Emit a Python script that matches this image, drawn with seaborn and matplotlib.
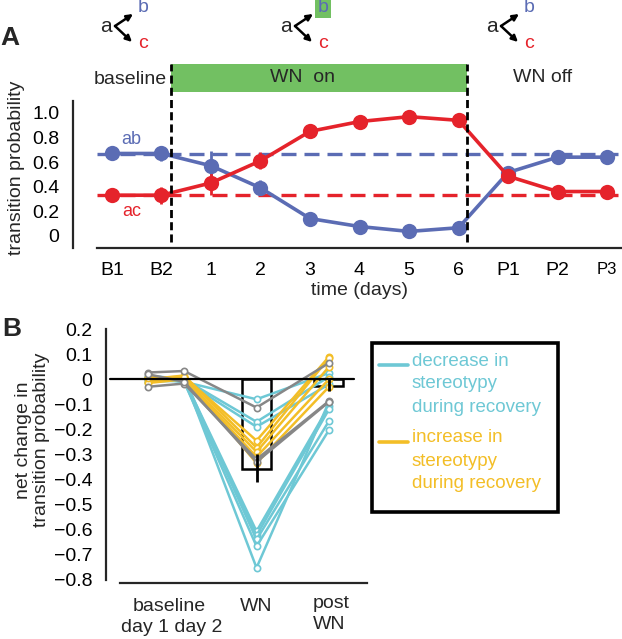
import numpy as np
import pandas as pd
import matplotlib
matplotlib.use("Agg")
import matplotlib.pyplot as plt
from matplotlib.patches import Rectangle, FancyArrowPatch
from matplotlib.lines import Line2D
import seaborn as sns

sns.set_style("white")
plt.rcParams['font.family'] = ['Liberation Sans', 'DejaVu Sans']

# ---- panel A data ----
day_labels = ['B1', 'B2', '1', '2', '3', '4', '5', '6', 'P1', 'P2', 'P3']
ab_prob = [0.67, 0.67, 0.57, 0.39, 0.14, 0.075, 0.035, 0.065, 0.515, 0.64, 0.64]
ab_err = [0.05, 0.065, 0.12, 0.06, 0.02, 0.02, 0.02, 0.02, 0.05, 0.05, 0.05]
ac_prob = [0.33, 0.33, 0.43, 0.61, 0.85, 0.93, 0.97, 0.94, 0.485, 0.36, 0.36]
ac_err = [0.05, 0.07, 0.10, 0.07, 0.02, 0.02, 0.02, 0.02, 0.05, 0.05, 0.05]
ab_base = 0.667
ac_base = 0.333

# ---- panel B data (one row per bird: day1, day2, WN, post WN) ----
stage_pos = [0, 1, 3, 5]
bird_group = ['decrease'] * 8 + ['increase'] * 5 + ['other'] * 3
day1 = [0.01, 0.0, -0.01, 0.015, 0.0, -0.01, 0.005, 0.0,
        -0.01, 0.0, 0.01, -0.015, 0.005,
        0.027, -0.03, 0.02]
day2 = [-0.01, 0.0, -0.005, 0.0, -0.01, 0.005, -0.01, 0.005,
        0.01, 0.015, 0.005, 0.0, 0.01,
        0.033, -0.017, -0.01]
wn = [-0.08, -0.17, -0.19, -0.607, -0.624, -0.64, -0.667, -0.753,
      -0.245, -0.273, -0.29, -0.31, -0.335,
      -0.113, -0.32, -0.33]
post = [0.025, 0.01, -0.02, -0.107, -0.12, -0.167, -0.203, -0.09,
        0.09, 0.085, 0.05, 0.0, -0.03,
        0.065, -0.087, -0.09]
bar_mean = [-0.36, -0.025]
bar_err_lo = [-0.41, -0.048]
bar_err_hi = [-0.30, 0.0]

BLUE = '#5b6cb4'
RED = '#e5232b'
GREEN = '#72c062'
CYAN = '#6ec8d5'
YELLOW = '#f3be27'
GRAY = '#878787'

W, H = 622, 639
fig = plt.figure(figsize=(W / 100, H / 100), dpi=100)


def fx(px):
    return px / W


def fy(py):
    return 1 - py / H


# ==========================================
# PANEL A
# ==========================================
axA = fig.add_axes([fx(97), fy(248), fx(622) - fx(97), fy(100.7) - fy(248)])
# spine position first: moving a spine resets the tick labels
for s in ['top', 'right']:
    axA.spines[s].set_visible(False)
axA.spines['left'].set_position(('outward', 17))
axA.spines['left'].set_linewidth(1.6)
axA.spines['bottom'].set_linewidth(1.6)

pos = np.arange(len(day_labels))
dfA = pd.DataFrame({
    'pos': np.concatenate([pos, pos]),
    'prob': ab_prob + ac_prob,
    'trans': ['ab'] * len(pos) + ['ac'] * len(pos),
})

axA.axhline(ab_base, color=BLUE, lw=2.4, ls=(0, (4.5, 2.4)), zorder=1)
axA.axhline(ac_base, color=RED, lw=2.4, ls=(0, (4.5, 2.4)), zorder=1)

sns.lineplot(data=dfA, x='pos', y='prob', hue='trans',
             palette={'ab': BLUE, 'ac': RED}, marker='o', markersize=11,
             markeredgewidth=0, linewidth=2.6, legend=False, ax=axA, zorder=3)
axA.errorbar(pos, ab_prob, yerr=ab_err, fmt='none', ecolor=BLUE, elinewidth=2, zorder=2)
axA.errorbar(pos, ac_prob, yerr=ac_err, fmt='none', ecolor=RED, elinewidth=2, zorder=2)

axA.set_xlim(-0.3, 10.3)
axA.set_ylim(-0.1, 1.1)
axA.set_xticks(pos)
axA.set_xticklabels(day_labels, fontsize=14)
axA.get_xticklabels()[-1].set_fontsize(12)
axA.set_yticks([0, 0.2, 0.4, 0.6, 0.8, 1.0])
axA.set_yticklabels(['0', '0.2', '0.4', '0.6', '0.8', '1.0'], fontsize=14)
axA.set_xlabel('time (days)', fontsize=14, labelpad=2)
axA.set_ylabel('transition probability', fontsize=14)
axA.yaxis.set_label_coords(-0.137, 0.543)
axA.tick_params(direction='out', length=6, width=1.6, pad=4, colors='black')

axA.text(0.4, 0.78, 'ab', color=BLUE, fontsize=13, ha='center', va='center')
axA.text(0.4, 0.2, 'ac', color=RED, fontsize=13, ha='center', va='center')

# WN period markers
wn_start, wn_end = 1.19, 7.18
for xv in [wn_start, wn_end]:
    axA.plot([xv, xv], [-0.05, 1.40], color='black', lw=2, ls=(0, (2.9, 1.5)),
             clip_on=False, zorder=4)
axA.add_patch(Rectangle((wn_start, 1.171), wn_end - wn_start, 0.228,
                        facecolor=GREEN, edgecolor='none', clip_on=False, zorder=0))
axA.text(1.1, 1.27, 'baseline', fontsize=14, ha='right', va='center')
axA.text(3.85, 1.29, 'WN  on', fontsize=14, ha='center', va='center')
axA.text(8.7, 1.29, 'WN off', fontsize=14, ha='center', va='center')

# a -> b / a -> c schematics
for ax_px, boxed in [(106, False), (286, True), (492, False)]:
    fig.text(fx(ax_px), fy(26), 'a', fontsize=15, ha='center', va='center')
    bkw = dict(boxstyle='square,pad=0.15', facecolor=GREEN, edgecolor='none') if boxed else None
    fig.text(fx(ax_px + 37), fy(7), 'b', fontsize=14, ha='center', va='center',
             color=BLUE, bbox=bkw)
    fig.text(fx(ax_px + 37), fy(43), 'c', fontsize=14, ha='center', va='center', color=RED)
    apex = (fx(ax_px + 9), fy(26))
    for tip in [(fx(ax_px + 27), fy(14)), (fx(ax_px + 26), fy(42))]:
        fig.add_artist(FancyArrowPatch(
            apex, tip, transform=fig.transFigure, arrowstyle='-|>',
            mutation_scale=9, lw=1.8, color='black', shrinkA=0, shrinkB=0))

fig.text(fx(10), fy(38), 'A', fontsize=19, fontweight='bold', ha='center', va='center')

# ==========================================
# PANEL B
# ==========================================
axB = fig.add_axes([fx(120), fy(583.3), fx(367) - fx(120), fy(329.2) - fy(583.3)])
for s in ['top', 'right']:
    axB.spines[s].set_visible(False)
axB.spines['left'].set_position(('outward', 10))
axB.spines['left'].set_linewidth(1.6)
axB.spines['bottom'].set_linewidth(1.6)

rows = []
for i, g in enumerate(bird_group):
    for p, v in zip(stage_pos, [day1[i], day2[i], wn[i], post[i]]):
        rows.append({'bird': i, 'group': g, 'pos': p, 'change': v})
dfB = pd.DataFrame(rows)

axB.bar([3, 5], bar_mean, width=0.8, facecolor='none', edgecolor='black',
        linewidth=1.8, zorder=1)
sns.lineplot(data=dfB, x='pos', y='change', hue='group', units='bird',
             estimator=None, hue_order=['decrease', 'increase', 'other'],
             palette={'decrease': CYAN, 'increase': YELLOW, 'other': GRAY},
             marker='o', markersize=4.5, linewidth=1.8, legend=False, ax=axB, zorder=2)
# open circle markers in the line colour
for ln in axB.get_lines():
    ln.set_markerfacecolor('white')
    ln.set_markeredgecolor(ln.get_color())
    ln.set_markeredgewidth(1.2)
axB.vlines([3, 5], bar_err_lo, bar_err_hi, color='black', lw=2, zorder=3)
axB.plot([-1.05, 5.7], [0, 0], color='black', lw=1.6, clip_on=False, zorder=3)

axB.set_xlim(-0.77, 6.05)
axB.set_ylim(-0.815, 0.2)
axB.spines['left'].set_bounds(-0.8, 0.2)
yt = np.round(np.arange(-0.8, 0.21, 0.1), 1)
axB.set_yticks(yt)
axB.set_yticklabels(['0' if v == 0 else f'{v:.1f}'.replace('-', '\u2212') for v in yt],
                    fontsize=14)
axB.set_xticks(stage_pos)
axB.set_xticklabels([])
axB.set_xlabel('')
axB.set_ylabel('net change in\ntransition probability', fontsize=14, linespacing=1.05)
axB.yaxis.set_label_coords(-0.283, 0.564)
axB.tick_params(direction='out', length=6, width=1.6, pad=4, colors='black')

tB = axB.get_xaxis_transform()
axB.text(0.58, -0.093, 'baseline', transform=tB, fontsize=14, ha='center', va='center')
axB.text(0.65, -0.175, 'day 1 day 2', transform=tB, fontsize=14, ha='center', va='center')
axB.text(3.0, -0.093, 'WN', transform=tB, fontsize=14, ha='center', va='center')
axB.text(5.05, -0.078, 'post', transform=tB, fontsize=14, ha='center', va='center')
axB.text(5.0, -0.164, 'WN', transform=tB, fontsize=14, ha='center', va='center')

fig.text(fx(12), fy(329), 'B', fontsize=19, fontweight='bold', ha='center', va='center')

# legend box
fig.add_artist(Rectangle((fx(372), fy(512)), fx(558) - fx(372), fy(343) - fy(512),
                         transform=fig.transFigure, facecolor='none',
                         edgecolor='black', lw=2.6))
for col, y0, words in [(CYAN, 361, ['decrease in', 'stereotypy', 'during recovery']),
                       (YELLOW, 438, ['increase in', 'stereotypy', 'during recovery'])]:
    fig.add_artist(Line2D([fx(379), fx(408)], [fy(y0 + 4), fy(y0 + 4)],
                          transform=fig.transFigure, color=col, lw=2.6))
    for k, w in enumerate(words):
        fig.text(fx(412), fy(y0 + 23 * k), w, color=col, fontsize=13.5,
                 ha='left', va='center')

fig.savefig('out.png', dpi=100)
